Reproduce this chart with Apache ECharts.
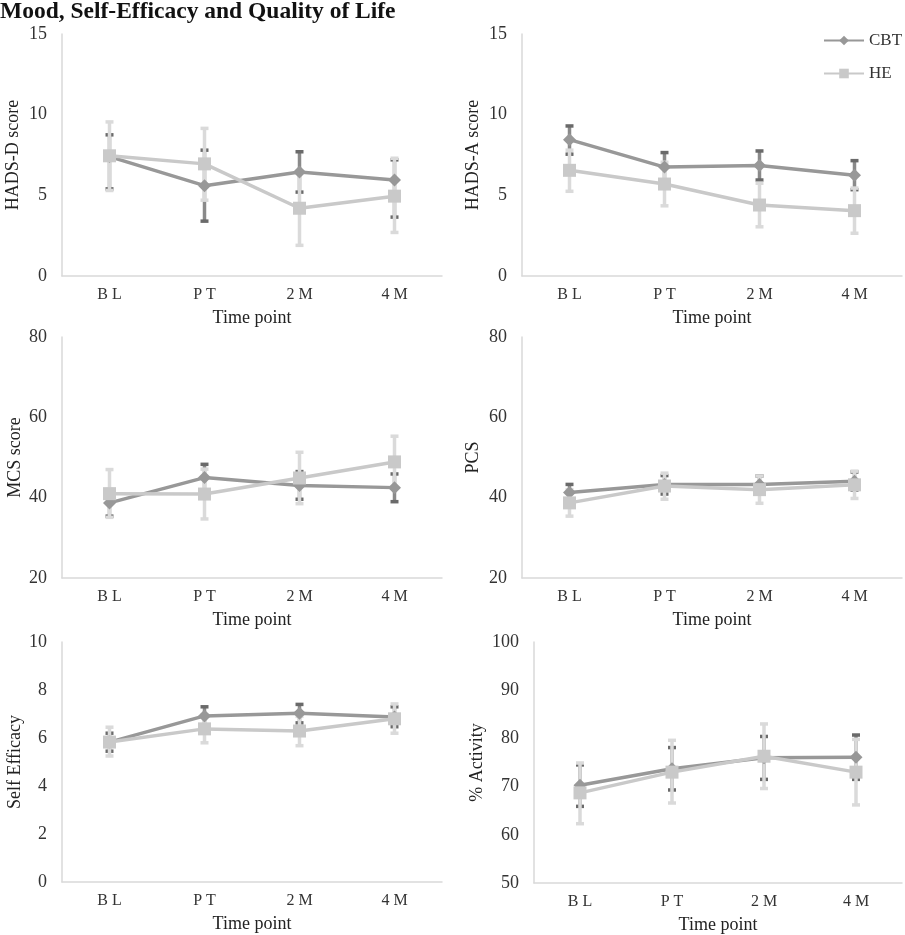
<!DOCTYPE html>
<html>
<head>
<meta charset="utf-8">
<script src="https://cdn.jsdelivr.net/npm/echarts@6/dist/echarts.min.js"></script>
<style>
html,body{margin:0;padding:0;background:#fff;}
#chart{width:905px;height:935px;}
</style>
</head>
<body>
<div id="chart"></div>
<script>
// ---------- DATA ----------
const categories = ['B L', 'P T', '2 M', '4 M'];
const seriesNames = ['CBT', 'HE'];

// HADS-D score
const hadsD_CBT = [7.4, 5.6, 6.45, 5.95];
const hadsD_CBT_lo = [5.4, 3.4, 5.2, 3.65];
const hadsD_CBT_hi = [8.75, 7.8, 7.7, 7.2];
const hadsD_HE = [7.45, 6.95, 4.2, 4.95];
const hadsD_HE_lo = [5.3, 4.7, 1.9, 2.7];
const hadsD_HE_hi = [9.55, 9.15, 6.5, 7.3];

// HADS-A score
const hadsA_CBT = [8.45, 6.75, 6.85, 6.25];
const hadsA_CBT_lo = [7.55, 5.85, 5.95, 5.35];
const hadsA_CBT_hi = [9.3, 7.65, 7.75, 7.15];
const hadsA_HE = [6.55, 5.7, 4.4, 4.05];
const hadsA_HE_lo = [5.25, 4.35, 3.05, 2.65];
const hadsA_HE_hi = [7.8, 7.05, 5.75, 5.45];

// MCS score
const mcs_CBT = [38.7, 45.0, 43.0, 42.5];
const mcs_CBT_lo = [35.4, 41.8, 39.6, 39.0];
const mcs_CBT_hi = [42.0, 48.3, 46.5, 45.9];
const mcs_HE = [41.0, 40.9, 44.9, 48.9];
const mcs_HE_lo = [35.1, 34.7, 38.5, 42.5];
const mcs_HE_hi = [47.0, 47.1, 51.3, 55.3];

// PCS
const pcs_CBT = [41.3, 43.3, 43.3, 44.1];
const pcs_CBT_lo = [39.3, 40.9, 41.1, 41.9];
const pcs_CBT_hi = [43.3, 45.5, 45.4, 46.4];
const pcs_HE = [38.7, 42.9, 42.0, 43.2];
const pcs_HE_lo = [35.4, 39.6, 38.6, 39.8];
const pcs_HE_hi = [42.0, 46.1, 45.4, 46.6];

// Self Efficacy
const se_CBT = [5.83, 6.92, 7.03, 6.88];
const se_CBT_lo = [5.45, 6.52, 6.63, 6.47];
const se_CBT_hi = [6.2, 7.3, 7.4, 7.3];
const se_HE = [5.83, 6.38, 6.29, 6.8];
const se_HE_lo = [5.25, 5.8, 5.68, 6.2];
const se_HE_hi = [6.45, 6.96, 6.9, 7.42];

// % Activity
const act_CBT = [70.3, 73.7, 76.0, 76.1];
const act_CBT_lo = [65.9, 69.3, 71.5, 71.5];
const act_CBT_hi = [74.5, 78.1, 80.4, 80.7];
const act_HE = [68.7, 73.0, 76.3, 73.0];
const act_HE_lo = [62.3, 66.6, 69.6, 66.2];
const act_HE_hi = [74.9, 79.6, 83.0, 79.8];

// axis settings (titles and ranges)
const yTitles = ['HADS-D score', 'HADS-A score', 'MCS score', 'PCS', 'Self Efficacy', '% Activity'];
const yMins = [0, 0, 20, 20, 0, 50];
const yMaxs = [15, 15, 80, 80, 10, 100];
const yIntervals = [5, 5, 20, 20, 2, 10];
const xTitle = 'Time point';
const chartTitle = 'Mood, Self-Efficacy and Quality of Life';

// ---------- LAYOUT ----------
const FONT = '"Liberation Serif", "Times New Roman", serif';
const grids = [
  {left: 62, top: 34, width: 380, height: 242},
  {left: 522, top: 34, width: 380, height: 242},
  {left: 62, top: 337, width: 380, height: 241},
  {left: 522, top: 337, width: 380, height: 241},
  {left: 62, top: 642, width: 380, height: 240},
  {left: 534, top: 642, width: 368, height: 241}
].map(g => Object.assign({outerBoundsMode: 'none', containLabel: false}, g));
const yNameGaps = [40, 40, 38, 40, 38, 48];

const panels = [
  {cbt: hadsD_CBT, cbtLo: hadsD_CBT_lo, cbtHi: hadsD_CBT_hi, he: hadsD_HE, heLo: hadsD_HE_lo, heHi: hadsD_HE_hi},
  {cbt: hadsA_CBT, cbtLo: hadsA_CBT_lo, cbtHi: hadsA_CBT_hi, he: hadsA_HE, heLo: hadsA_HE_lo, heHi: hadsA_HE_hi},
  {cbt: mcs_CBT, cbtLo: mcs_CBT_lo, cbtHi: mcs_CBT_hi, he: mcs_HE, heLo: mcs_HE_lo, heHi: mcs_HE_hi},
  {cbt: pcs_CBT, cbtLo: pcs_CBT_lo, cbtHi: pcs_CBT_hi, he: pcs_HE, heLo: pcs_HE_lo, heHi: pcs_HE_hi},
  {cbt: se_CBT, cbtLo: se_CBT_lo, cbtHi: se_CBT_hi, he: se_HE, heLo: se_HE_lo, heHi: se_HE_hi},
  {cbt: act_CBT, cbtLo: act_CBT_lo, cbtHi: act_CBT_hi, he: act_HE, heLo: act_HE_lo, heHi: act_HE_hi}
];

const CBT_COLOR = '#989898';
const HE_COLOR = '#c9c9c9';
const CBT_ERR = '#8a8a8a';
const CBT_CAP = '#6a6a6a';
const HE_ERR = '#dadada';

function errRender(stemColor, capColor) {
  return function (params, api) {
    const x = api.value(0);
    const lo = api.coord([x, api.value(1)]);
    const hi = api.coord([x, api.value(2)]);
    const cw = 4;
    return {
      type: 'group',
      children: [
        {type: 'line', shape: {x1: lo[0], y1: lo[1], x2: hi[0], y2: hi[1]},
         style: {stroke: stemColor, lineWidth: 3.5}},
        {type: 'line', shape: {x1: lo[0] - cw, y1: lo[1], x2: lo[0] + cw, y2: lo[1]},
         style: {stroke: capColor, lineWidth: 3.5}},
        {type: 'line', shape: {x1: hi[0] - cw, y1: hi[1], x2: hi[0] + cw, y2: hi[1]},
         style: {stroke: capColor, lineWidth: 3.5}}
      ]
    };
  };
}

const xAxes = [], yAxes = [], series = [];
panels.forEach((p, i) => {
  xAxes.push({
    type: 'category', gridIndex: i, data: categories,
    axisLine: {lineStyle: {color: '#d9d9d9', width: 1.5}},
    axisTick: {show: false},
    axisLabel: {fontFamily: FONT, fontSize: 16, color: '#333', margin: 11},
    name: xTitle, nameLocation: 'middle', nameGap: 33,
    nameTextStyle: {fontFamily: FONT, fontSize: 18, color: '#222'}
  });
  yAxes.push({
    type: 'value', gridIndex: i, min: yMins[i], max: yMaxs[i], interval: yIntervals[i],
    axisLine: {show: true, lineStyle: {color: '#d9d9d9', width: 1.5}},
    axisTick: {show: false},
    splitLine: {show: false},
    axisLabel: {fontFamily: FONT, fontSize: 18, color: '#333', margin: 15},
    name: yTitles[i], nameLocation: 'middle', nameGap: yNameGaps[i],
    nameTextStyle: {fontFamily: FONT, fontSize: 18, color: '#222'}
  });
  series.push({
    type: 'custom', name: 'CBT error', xAxisIndex: i, yAxisIndex: i, z: 1,
    renderItem: errRender(CBT_ERR, CBT_CAP),
    data: p.cbt.map((v, k) => [k, p.cbtLo[k], p.cbtHi[k]]),
    encode: {x: 0, y: [1, 2]}, silent: true
  });
  series.push({
    type: 'custom', name: 'HE error', xAxisIndex: i, yAxisIndex: i, z: 1,
    renderItem: errRender(HE_ERR, HE_ERR),
    data: p.he.map((v, k) => [k, p.heLo[k], p.heHi[k]]),
    encode: {x: 0, y: [1, 2]}, silent: true
  });
  series.push({
    type: 'line', name: 'CBT', xAxisIndex: i, yAxisIndex: i, z: 2,
    data: p.cbt, symbol: 'diamond', symbolSize: 13,
    lineStyle: {color: CBT_COLOR, width: 3.5},
    itemStyle: {color: CBT_COLOR}, silent: true
  });
  series.push({
    type: 'line', name: 'HE', xAxisIndex: i, yAxisIndex: i, z: 3,
    data: p.he, symbol: 'rect', symbolSize: 13,
    lineStyle: {color: HE_COLOR, width: 3.5},
    itemStyle: {color: HE_COLOR}, silent: true
  });
});

const chart = echarts.init(document.getElementById('chart'), null, {renderer: 'canvas'});
chart.setOption({
  animation: false,
  backgroundColor: '#fff',
  title: {
    text: chartTitle, left: 0, top: 0, padding: 0,
    textStyle: {fontFamily: FONT, fontSize: 23.5, fontWeight: 'bold', color: '#111'}
  },
  legend: {
    data: seriesNames, orient: 'vertical', left: 823, top: 32, padding: 0,
    itemWidth: 40, itemHeight: 12, itemGap: 16,
    textStyle: {fontFamily: FONT, fontSize: 17, color: '#333'}
  },
  grid: grids,
  xAxis: xAxes,
  yAxis: yAxes,
  series: series
});
</script>
</body>
</html>
